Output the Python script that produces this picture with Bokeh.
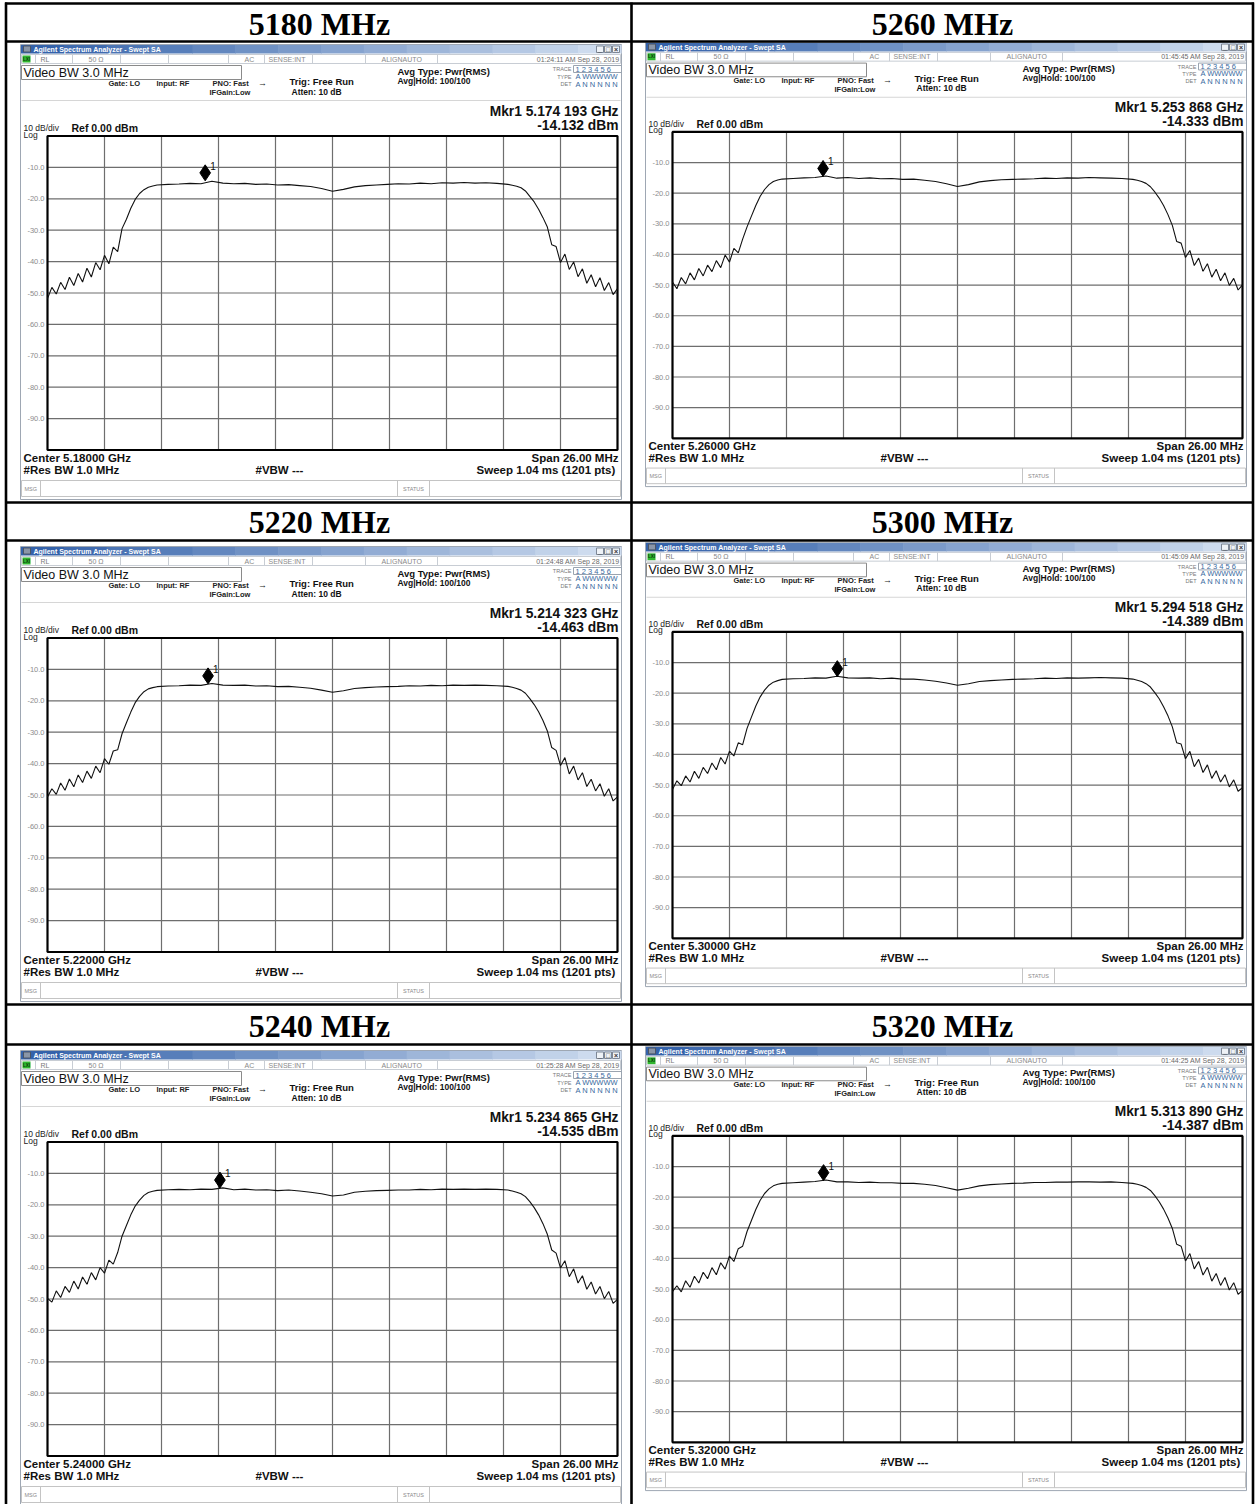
from bokeh.plotting import figure
from bokeh.models import Range1d, ColumnDataSource
from bokeh.core.properties import value, field
from bokeh.embed import file_html
from bokeh.resources import INLINE

# ---------------- data ----------------
titles = ["5180 MHz", "5260 MHz", "5220 MHz", "5300 MHz", "5240 MHz", "5320 MHz"]
centers_mhz = [5180, 5260, 5220, 5300, 5240, 5320]
marker_freq_mhz = [5174.193, 5253.868, 5214.323, 5294.518, 5234.865, 5313.890]
marker_dbm = [-14.132, -14.333, -14.463, -14.389, -14.535, -14.387]
timestamps = ["01:24:11 AM Sep 28, 2019", "01:45:45 AM Sep 28, 2019",
              "01:24:48 AM Sep 28, 2019", "01:45:09 AM Sep 28, 2019",
              "01:25:28 AM Sep 28, 2019", "01:44:25 AM Sep 28, 2019"]
span_mhz = 26.0
ref_level = 0.0
db_per_div = 10
y_tick_levels = [-10, -20, -30, -40, -50, -60, -70, -80, -90]
y_tick_labels = ["-10.0", "-20.0", "-30.0", "-40.0", "-50.0", "-60.0", "-70.0", "-80.0", "-90.0"]

# frequency offset from centre (MHz), shared by all six traces
offset_mhz = [-13.0, -12.8, -12.6, -12.4, -12.2, -12.0, -11.8, -11.6, -11.4, -11.2, -11.0, -10.8,
              -10.6, -10.4, -10.2, -10.0, -9.8,
              -9.6, -9.4, -9.2, -9.0, -8.8, -8.6, -8.4, -8.2, -8.0, -7.5,
              -7.0, -6.5, -6.0, -5.5, -5.0, -4.5, -4.0, -3.5, -3.0, -2.5, -2.0, -1.5, -1.0, -0.5,
              0.0, 0.5, 1.0, 1.5, 2.0, 2.5, 3.0, 3.5, 4.0, 4.5, 5.0, 5.5, 6.0, 6.5, 7.0,
              7.5, 8.0, 8.2, 8.4, 8.6, 8.8, 9.0, 9.2, 9.4, 9.6,
              9.8, 10.0, 10.2, 10.4, 10.6, 10.8, 11.0, 11.2, 11.4, 11.6, 11.8, 12.0, 12.2,
              12.4, 12.6, 12.8, 13.0]

trace_5180 = [-51.8, -48.2, -50.3, -46.6, -48.9, -45.0, -47.6, -43.8, -46.5, -42.1, -44.9, -40.3, -42.6, -38.0, -40.7, -35.4, -36.8,
              -29.5, -26.5, -23.0, -20.2, -18.3, -17.1, -16.3, -15.9, -15.6, -15.4,
              -15.3, -15.1, -15.2, -14.4, -15.0, -15.2, -15.1, -15.4, -15.3, -15.6, -15.5, -15.8, -16.1, -16.7, -17.6,
              -17.0, -16.2, -15.8, -15.6, -15.4, -15.2, -15.3, -15.0, -15.2, -14.9, -15.0, -14.8, -15.0, -14.9,
              -15.1, -15.4, -15.7, -16.0, -16.5, -17.5, -19.2, -21.0, -23.3, -26.0,
              -29.0, -34.6, -35.2, -40.3, -37.6, -42.5, -40.1, -44.8, -42.3, -46.9, -44.2, -48.0, -45.1, -49.2, -46.7, -50.5, -48.6]
trace_5260 = [-49.0, -51.2, -47.5, -49.6, -46.0, -48.3, -44.6, -47.0, -43.5, -45.6, -42.0, -44.3, -40.2, -42.5, -38.0, -39.5, -35.0,
              -31.0, -27.5, -24.0, -21.0, -18.8, -17.2, -16.2, -15.7, -15.4, -15.2,
              -15.0, -14.9, -14.4, -15.1, -14.9, -15.2, -15.0, -15.3, -15.2, -15.5, -15.4, -15.8, -16.2, -16.9, -17.8,
              -17.2, -16.3, -15.9, -15.6, -15.5, -15.4, -15.3, -15.1, -15.2, -15.0, -15.1, -14.9, -15.0, -15.1,
              -15.2, -15.5, -15.8, -16.2, -16.8, -17.9, -19.6, -21.6, -24.0, -27.0,
              -30.5, -35.8, -36.3, -41.0, -38.7, -43.6, -41.2, -45.5, -43.0, -47.4, -44.8, -48.6, -46.0, -50.1, -47.8, -51.6, -49.9]
trace_5220 = [-50.6, -48.0, -49.8, -46.2, -48.5, -44.9, -47.4, -43.6, -46.0, -42.4, -44.7, -40.8, -42.9, -38.4, -40.2, -36.0, -35.6,
              -30.5, -27.0, -23.6, -20.6, -18.6, -17.1, -16.2, -15.8, -15.5, -15.3,
              -15.2, -15.0, -15.1, -14.5, -15.0, -15.1, -15.0, -15.3, -15.2, -15.5, -15.4, -15.7, -16.0, -16.6, -17.3,
              -16.8, -16.1, -15.8, -15.6, -15.5, -15.4, -15.2, -15.3, -15.1, -15.2, -15.0, -15.1, -15.0, -15.1,
              -15.2, -15.4, -15.7, -16.1, -16.6, -17.6, -19.3, -21.2, -23.5, -26.3,
              -29.6, -34.9, -35.8, -40.6, -38.1, -43.3, -40.8, -45.2, -42.9, -47.3, -45.0, -48.7, -46.4, -50.4, -48.0, -51.9, -50.6]
trace_5300 = [-51.4, -48.6, -50.2, -47.0, -49.0, -45.5, -47.8, -44.2, -46.2, -42.8, -45.0, -41.0, -43.1, -38.9, -40.5, -36.2, -36.8,
              -31.5, -27.8, -24.2, -21.2, -19.0, -17.4, -16.4, -15.9, -15.5, -15.3,
              -15.2, -15.0, -15.1, -14.5, -15.0, -15.1, -15.0, -15.3, -15.1, -15.4, -15.4, -15.7, -16.1, -16.7, -17.4,
              -16.9, -16.2, -15.9, -15.7, -15.5, -15.4, -15.3, -15.1, -15.2, -15.0, -15.1, -15.0, -14.9, -15.0,
              -15.1, -15.4, -15.8, -16.2, -16.9, -18.0, -19.8, -21.8, -24.4, -27.4,
              -31.0, -36.2, -36.6, -41.4, -39.0, -44.0, -41.6, -45.9, -43.4, -47.8, -45.3, -49.0, -46.6, -50.6, -48.3, -52.0, -50.8]
trace_5240 = [-49.8, -51.0, -47.4, -49.5, -46.0, -47.9, -44.3, -46.8, -43.0, -45.3, -41.6, -43.9, -40.0, -41.8, -37.6, -38.9, -35.2,
              -30.0, -26.6, -23.2, -20.4, -18.5, -17.0, -16.1, -15.7, -15.4, -15.2,
              -15.1, -15.2, -15.0, -15.1, -14.6, -15.2, -15.0, -15.3, -15.2, -15.5, -15.3, -15.6, -16.0, -16.5, -17.2,
              -16.9, -16.0, -15.7, -15.5, -15.4, -15.3, -15.3, -15.1, -15.2, -15.0, -15.1, -15.0, -15.1, -15.0,
              -15.1, -15.3, -15.6, -16.0, -16.5, -17.4, -19.0, -20.9, -23.2, -26.0,
              -29.4, -34.4, -35.4, -40.1, -37.8, -42.9, -40.4, -44.9, -42.6, -46.9, -44.6, -48.4, -46.0, -49.9, -47.6, -51.4, -50.1]
trace_5320 = [-50.8, -48.9, -50.9, -47.3, -49.4, -45.8, -48.0, -44.5, -46.6, -43.0, -45.3, -41.4, -43.5, -39.2, -41.0, -36.8, -36.0,
              -31.2, -27.6, -24.0, -21.0, -18.8, -17.3, -16.3, -15.8, -15.5, -15.3,
              -15.1, -14.9, -14.4, -15.0, -15.0, -15.2, -15.1, -15.3, -15.3, -15.5, -15.5, -15.8, -16.2, -16.9, -17.7,
              -17.1, -16.3, -15.9, -15.7, -15.5, -15.4, -15.2, -15.2, -15.1, -15.1, -15.0, -15.0, -15.1, -15.0,
              -15.2, -15.5, -15.8, -16.2, -16.8, -17.8, -19.5, -21.5, -23.9, -26.8,
              -30.2, -35.4, -36.0, -40.8, -38.4, -43.4, -41.0, -45.4, -42.9, -47.4, -44.9, -48.8, -46.2, -50.3, -47.9, -51.7, -50.4]
traces = [trace_5180, trace_5260, trace_5220, trace_5300, trace_5240, trace_5320]
for t in traces:
    assert len(t) == len(offset_mhz), len(t)

# ---------------- figure (reference pixel space) ----------------
X0, Y0 = 0, 0
FW, FH = 1255, 1504
p = figure(width=FW, height=FH, x_range=Range1d(X0, X0 + FW), y_range=Range1d(Y0 + FH, Y0),
           output_backend="svg", toolbar_location=None, min_border=0,
           x_axis_location=None, y_axis_location=None, outline_line_color=None,
           background_fill_color="white", border_fill_color="white")
p.title.visible = False
p.grid.visible = False

SANS = "Liberation Sans"
SERIF = "Liberation Serif"

fquads = dict(l=[], r=[], t=[], b=[], fill=[], line=[])
oquads = dict(l=[], r=[], t=[], b=[], line=[])
segs = dict(x0=[], y0=[], x1=[], y1=[], color=[], width=[])
texts = {}


def add_text(x, y, s, size, bold=False, color="#000000", align="left", font=SANS):
    key = (font, size, "bold" if bold else "normal", color, align)
    d = texts.setdefault(key, dict(x=[], y=[], text=[]))
    d["x"].append(x)
    d["y"].append(y)
    d["text"].append(s)


def mix(c1, c2, t):
    return "#%02x%02x%02x" % tuple(round(a + (b - a) * t) for a, b in zip(c1, c2))


def table_line(x0, y0, x1, y1):
    segs["x0"].append(x0); segs["x1"].append(x1); segs["y0"].append(y0); segs["y1"].append(y1)
    segs["color"].append("#000000"); segs["width"].append(2.6)


# table frame
for yy in [3, 41, 502, 540, 1004, 1044]:
    table_line(4.5, yy, 1253.5, yy)
for xx in [5.5, 631, 1252.5]:
    table_line(xx, 2, xx, 1504)

band_y = [23, 521, 1025]
col_cx = [319, 942]

dyL = [0, 502, 1006]
dyR = [0, 500, 1004]
cells = [(0, 0), (0, 1), (1, 0), (1, 1), (2, 0), (2, 1)]  # (row, col)

cell_geom = []
for i, (r, c) in enumerate(cells):
    if c == 0:
        fx = (lambda x: x)
        fy = (lambda y, r=r: y + dyL[r])
    else:
        fx = (lambda x: x + 625)
        fy = (lambda y, r=r: 131.4 + (y - 135.5) * 0.9758 + dyR[r])

    def Q(x0, x1, y0, y1, fill, line, fx=fx, fy=fy):
        fquads["l"].append(fx(x0)); fquads["r"].append(fx(x1))
        fquads["t"].append(fy(y0)); fquads["b"].append(fy(y1))
        fquads["fill"].append(fill); fquads["line"].append(line)

    def O(x0, x1, y0, y1, line, fx=fx, fy=fy):
        oquads["l"].append(fx(x0)); oquads["r"].append(fx(x1))
        oquads["t"].append(fy(y0)); oquads["b"].append(fy(y1))
        oquads["line"].append(line)

    def S(x0, y0, x1, y1, color, width=1.0, fx=fx, fy=fy):
        segs["x0"].append(fx(x0)); segs["y0"].append(fy(y0))
        segs["x1"].append(fx(x1)); segs["y1"].append(fy(y1))
        segs["color"].append(color); segs["width"].append(width)

    def TT(x, y, s, size, bold=False, color="#000000", align="left", fx=fx, fy=fy):
        add_text(fx(x), fy(y), s, size, bold, color, align)

    # row title
    add_text(col_cx[c], band_y[r], titles[i], "32px", True, "#000000", "center", SERIF)

    # screenshot window
    Q(20, 621, 44, 499, "#ffffff", "#9ea7b3")
    nb = 14
    for k in range(nb):
        x0 = 20.5 + k * (600.0 / nb)
        Q(x0, x0 + 600.0 / nb + 0.6, 44.5, 53, mix((52, 98, 170), (205, 219, 238), k / (nb - 1)), None)
    Q(23, 30, 45.5, 51.5, "#8a96a8", "#4c5564")
    TT(33, 48.6, "Agilent Spectrum Analyzer - Swept SA", "7px", True, "#ffffff")
    for bx, sym in [(596, "_"), (604, "□"), (612, "×")]:
        Q(bx, bx + 7, 45.5, 52, "#eef2f7", "#7d8796")
        TT(bx + 3.5, 48.6, sym, "7px", True, "#333333", "center")

    # status row
    Q(21, 620, 54, 63, "#ffffff", "#c8cdd4")
    Q(22, 30, 55, 62, "#2fb62f", None)
    TT(26, 58.6, "LXI", "4.5px", True, "#0b3d0b", "center")
    for sx in [35, 72, 120, 168, 228, 264, 312, 365, 437]:
        S(sx, 54, sx, 63, "#c8cdd4", 1)
    TT(40, 58.6, "RL", "7px", False, "#7a7a7a")
    TT(88, 58.6, "50 Ω", "7px", False, "#8a8a8a")
    TT(244, 58.6, "AC", "7px", False, "#8a8a8a")
    TT(268, 58.6, "SENSE:INT", "7px", False, "#8a8a8a")
    TT(381, 58.6, "ALIGNAUTO", "7px", False, "#8a8a8a")
    TT(619, 58.6, timestamps[i], "7px", False, "#6a6a6a", "right")

    # header
    Q(21, 241, 65, 79, "#ffffff", "#8a8a8a")
    TT(23, 72, "Video BW  3.0 MHz", "12.5px", False, "#111111")
    TT(108, 82.5, "Gate: LO", "7.5px", True, "#222222")
    TT(156, 82.5, "Input: RF", "7.5px", True, "#222222")
    TT(212, 82.5, "PNO: Fast", "7.5px", True, "#222222")
    TT(209, 92, "IFGain:Low", "7.5px", True, "#222222")
    TT(262, 82.5, "→", "9px", True, "#222222", "center")
    TT(289, 81, "Trig: Free Run", "9.5px", True, "#111111")
    TT(291, 91, "Atten: 10 dB", "8.5px", True, "#111111")
    TT(397, 70.5, "Avg Type: Pwr(RMS)", "9.5px", True, "#111111")
    TT(397, 80.5, "Avg|Hold: 100/100", "8.5px", True, "#111111")
    O(573, 621, 65, 72, "#9aa4b0")
    TT(571, 68.5, "TRACE", "5.5px", False, "#7a7a7a", "right")
    TT(575, 68.5, "1 2 3 4 5 6", "7.5px", False, "#3a6aa0")
    TT(571, 76, "TYPE", "5.5px", False, "#7a7a7a", "right")
    TT(575, 76, "A WWWWW", "7.5px", False, "#3a6aa0")
    TT(571, 83.5, "DET", "5.5px", False, "#7a7a7a", "right")
    TT(575, 83.5, "A N N N N N", "7.5px", False, "#3a6aa0")
    S(21, 100, 620, 100, "#d6d6d6", 1)

    # marker readout
    fs = "%.6f" % (marker_freq_mhz[i] / 1000.0)
    TT(618, 110.5, "Mkr1 " + fs[:5] + " " + fs[5:] + " GHz", "13.8px", True, "#111111", "right")
    TT(618, 125, "%.3f dBm" % marker_dbm[i], "13.8px", True, "#111111", "right")
    TT(23, 127.5, "10 dB/div", "8.5px", False, "#222222")
    TT(23, 134, "Log", "8.5px", False, "#222222")
    TT(71, 127, "Ref %.2f dBm" % ref_level, "10.5px", True, "#111111")

    # footer
    TT(23, 457.5, "Center %.5f GHz" % (centers_mhz[i] / 1000.0), "11.5px", True, "#111111")
    TT(23, 469.5, "#Res BW 1.0 MHz", "11.5px", True, "#111111")
    TT(255, 469.5, "#VBW ---", "11.5px", True, "#111111")
    TT(618, 457.5, "Span %.2f MHz" % span_mhz, "11.5px", True, "#111111", "right")
    TT(618, 469.5, "Sweep  1.04 ms (1201 pts)", "11.5px", True, "#111111", "right")
    Q(21, 620, 480, 496, "#ffffff", "#c4c4c4")
    S(40, 480, 40, 496, "#c4c4c4", 1)
    S(397, 480, 397, 496, "#c4c4c4", 1)
    S(429, 480, 429, 496, "#c4c4c4", 1)
    TT(24, 488, "MSG", "5.5px", False, "#8a8a8a")
    TT(413, 488, "STATUS", "5.5px", False, "#8a8a8a", "center")

    cell_geom.append((fx(47), fx(617), fy(135.5), fy(449.5)))

# background quads and lines
p.quad(left="l", right="r", top="t", bottom="b", source=ColumnDataSource(fquads),
       fill_color=field("fill"), line_color=field("line"), line_width=1)
p.quad(left="l", right="r", top="t", bottom="b", source=ColumnDataSource(oquads),
       fill_color=None, line_color=field("line"), line_width=1)
p.segment(x0="x0", y0="y0", x1="x1", y1="y1", source=ColumnDataSource(segs),
          line_color=field("color"), line_width=field("width"))

# ---------------- spectrum graticules and traces (own scales per cell) ----------------
bottom_level = ref_level - 10 * db_per_div
for i, (gx0, gx1, gy0, gy1) in enumerate(cell_geom):
    xr, yr = "f%d" % i, "d%d" % i
    f_lo = centers_mhz[i] - span_mhz / 2
    f_hi = centers_mhz[i] + span_mhz / 2
    fpp = span_mhz / (gx1 - gx0)
    p.extra_x_ranges[xr] = Range1d(f_lo - (gx0 - X0) * fpp, f_lo + (X0 + FW - gx0) * fpp)
    dpp = (ref_level - bottom_level) / (gy1 - gy0)
    p.extra_y_ranges[yr] = Range1d(bottom_level - (Y0 + FH - gy1) * dpp, ref_level + (gy0 - Y0) * dpp)

    vx = [f_lo + k * span_mhz / 10 for k in range(1, 10)]
    p.segment(x0=vx, x1=vx, y0=[bottom_level] * 9, y1=[ref_level] * 9,
              line_color="#6e6e6e", line_width=1.2, x_range_name=xr, y_range_name=yr)
    p.segment(x0=[f_lo] * 9, x1=[f_hi] * 9, y0=y_tick_levels, y1=y_tick_levels,
              line_color="#6e6e6e", line_width=1.2, x_range_name=xr, y_range_name=yr)
    p.quad(left=[f_lo], right=[f_hi], bottom=[bottom_level], top=[ref_level],
           fill_color=None, line_color="#000000", line_width=2.2, x_range_name=xr, y_range_name=yr)
    p.text(x=[f_lo] * 9, y=y_tick_levels, text=y_tick_labels, x_offset=-3,
           text_font=value(SANS), text_font_size="7.5px", text_color="#8c8c8c",
           text_align="right", text_baseline="middle", x_range_name=xr, y_range_name=yr)

    fx_abs = [centers_mhz[i] + o for o in offset_mhz]
    p.line(x=fx_abs, y=traces[i], line_color="#111111", line_width=1.1,
           x_range_name=xr, y_range_name=yr)

    p.scatter(x=[marker_freq_mhz[i]], y=[marker_dbm[i] + 2.4], marker="diamond", size=16,
              fill_color="#000000", line_color="#000000", x_range_name=xr, y_range_name=yr)
    p.text(x=[marker_freq_mhz[i]], y=[marker_dbm[i] + 2.4], text=["1"], x_offset=5, y_offset=-7,
           text_font=value(SANS), text_font_size="10px", text_color="#111111",
           text_align="left", text_baseline="middle", x_range_name=xr, y_range_name=yr)

# ---------------- texts ----------------
for (font, size, style, color, align), d in texts.items():
    p.text(x="x", y="y", text="text", source=ColumnDataSource(d),
           text_font=value(font), text_font_size=value(size), text_font_style=style,
           text_color=color, text_align=align, text_baseline="middle")

open("out.html", "w").write(file_html(p, INLINE))
